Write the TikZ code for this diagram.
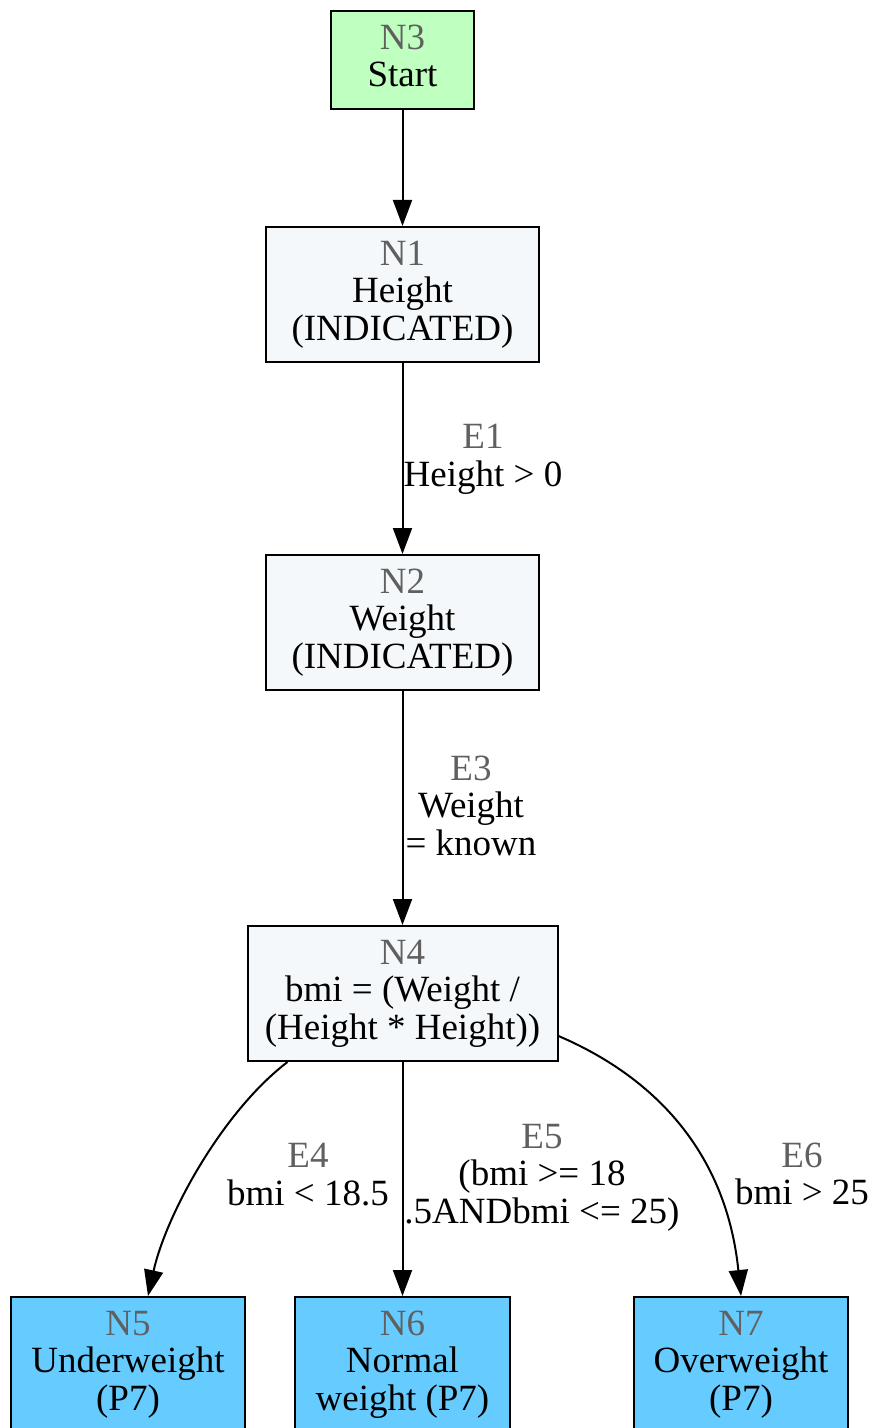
\documentclass[tikz,border=0pt]{standalone}
\usepackage{fontspec}
\setmainfont{Liberation Serif}
\usetikzlibrary{arrows.meta}
\definecolor{startgreen}{HTML}{BFFFBF}
\definecolor{procfill}{HTML}{F5F8FA}
\definecolor{endblue}{HTML}{66CCFF}
\definecolor{idgray}{HTML}{606060}
\newcommand{\gid}[1]{{\color{idgray}#1}}
\begin{document}
\begin{tikzpicture}[x=0.5pt,y=-0.5pt,
  txt/.style={font=\fontsize{18.5}{18.75}\selectfont},
  box/.style={txt, draw=black, line width=1pt, rectangle, align=center, inner sep=0pt},
  startbox/.style={box, fill=startgreen},
  procbox/.style={box, fill=procfill},
  endbox/.style={box, fill=endblue},
  lbl/.style={txt, align=center, inner sep=0pt},
  conn/.style={line width=1pt, -{Triangle[length=13pt,width=9.5pt]}}]
\useasboundingbox (0,0) rectangle (872,1428);
\clip (0,0) rectangle (872,1428);
\fill[white] (0,0) rectangle (872,1428);
% nodes
\node[startbox, minimum width=71.5pt, minimum height=49pt] (N3) at (402.5,60) {};
\node[lbl] (N3t) at (402.5,56) {\gid{N3}\\Start};
\node[procbox, minimum width=136.5pt, minimum height=67.5pt] (N1) at (402.5,294.5) {\gid{N1}\\Height\\(INDICATED)};
\node[procbox, minimum width=136.5pt, minimum height=67.5pt] (N2) at (402.5,622.5) {\gid{N2}\\Weight\\(INDICATED)};
\node[procbox, minimum width=155pt, minimum height=67.5pt] (N4) at (402.5,993.5) {\gid{N4}\\bmi = (Weight /\\(Height * Height))};
\node[endbox, minimum width=117pt, minimum height=67.5pt] (N5) at (128,1364.5) {\gid{N5}\\Underweight\\(P7)};
\node[endbox, minimum width=107.5pt, minimum height=67.5pt] (N6) at (402.5,1364.5) {\gid{N6}\\Normal\\weight (P7)};
\node[endbox, minimum width=107pt, minimum height=67.5pt] (N7) at (741,1364.5) {\gid{N7}\\Overweight\\(P7)};
% labels
\node[lbl] (L1) at (483,459.5) {\gid{E1}\\Height > 0};
\node[lbl] (L3) at (471,805.5) {\gid{E3}\\Weight\\= known};
\node[lbl] (L4) at (308,1174.5) {\gid{E4}\\bmi < 18.5};
\node[lbl] (L5) at (542,1177.5) {\gid{E5}\\(bmi >= 18\\.5ANDbmi <= 25)};
\node[lbl] (L6) at (802,1174) {\gid{E6}\\bmi > 25};
% connectors
\draw[conn] (N3) -- (N1);
\draw[conn] (N1) -- (N2);
\draw[conn] (N2) -- (N4);
\draw[conn] ([xshift=-57.5pt]N4.south) .. controls (222,1112) and (166,1215) .. ([xshift=10pt]N5.north);
\draw[conn] (N4) -- (N6);
\draw[conn] ([yshift=-21.25pt]N4.east) .. controls (652,1076) and (726,1150) .. (N7.north);
\end{tikzpicture}
\end{document}
